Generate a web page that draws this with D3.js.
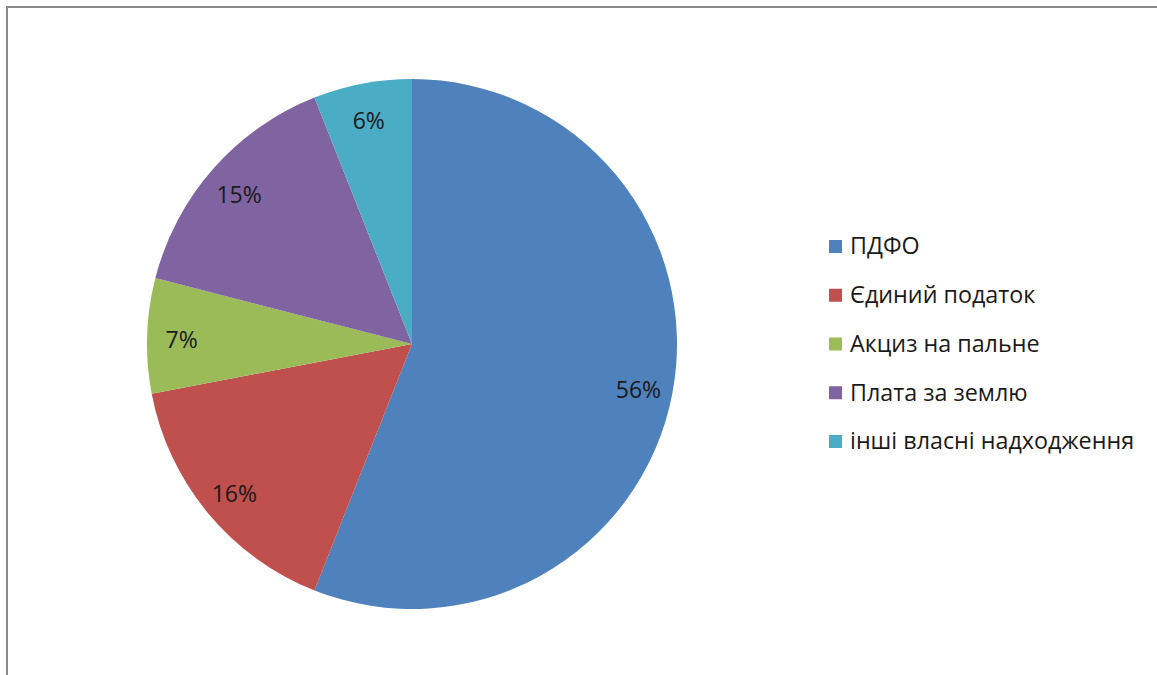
<!DOCTYPE html>
<html>
<head>
<meta charset="utf-8">
<script src="https://cdn.jsdelivr.net/npm/d3@7"></script>
<style>
  body { margin: 0; background: #fff; }
  svg { display: block; font-family: "Open Sans", Lato, sans-serif; }
</style>
</head>
<body>
<svg width="1157" height="675"></svg>
<script>
var categories = ["ПДФО", "Єдиний податок", "Акциз на пальне", "Плата за землю", "інші власні надходження"];
var values = [56, 16, 7, 15, 6];
var colors = ["#4F81BD", "#C0504D", "#9BBB59", "#8064A2", "#4BACC6"];

var w = 1157, h = 675;
var cx = 412, cy = 344, r = 265;

var svg = d3.select("svg");

// chart frame, runs off the right and bottom edges
svg.append("rect")
  .attr("x", 7).attr("y", 7)
  .attr("width", w + 20).attr("height", h + 20)
  .attr("fill", "none")
  .attr("stroke", "#898989")
  .attr("stroke-width", 2);

var data = categories.map(function (c, i) {
  return {name: c, value: values[i], color: colors[i]};
});

var pie = d3.pie().sort(null).value(function (d) { return d.value; });
var arc = d3.arc().innerRadius(0).outerRadius(r);
var labelArc = d3.arc().innerRadius(r * 0.87).outerRadius(r * 0.87);

var g = svg.append("g").attr("transform", "translate(" + [cx, cy] + ")");
var arcs = pie(data);

g.selectAll("path.slice")
  .data(arcs)
  .enter().append("path")
  .attr("class", "slice")
  .attr("d", arc)
  .attr("fill", function (d) { return d.data.color; });

g.selectAll("text.lbl")
  .data(arcs)
  .enter().append("text")
  .attr("class", "lbl")
  .attr("transform", function (d) { return "translate(" + labelArc.centroid(d) + ")"; })
  .attr("text-anchor", "middle")
  .attr("dy", "0.48em")
  .attr("font-size", 23)
  .attr("fill", "#1a1a1a")
  .text(function (d) { return d.data.value + "%"; });

// legend
var ly = d3.scalePoint().domain(categories).range([246, 441]);
var legend = svg.append("g").selectAll("g")
  .data(data)
  .enter().append("g")
  .attr("transform", function (d) { return "translate(829," + ly(d.name) + ")"; });

legend.append("rect")
  .attr("x", 0).attr("y", -6)
  .attr("width", 13).attr("height", 13)
  .attr("fill", function (d) { return d.color; });

legend.append("text")
  .attr("x", 21)
  .attr("dy", "0.36em")
  .attr("font-size", 23.3)
  .attr("fill", "#1a1a1a")
  .text(function (d) { return d.name; });
</script>
</body>
</html>
